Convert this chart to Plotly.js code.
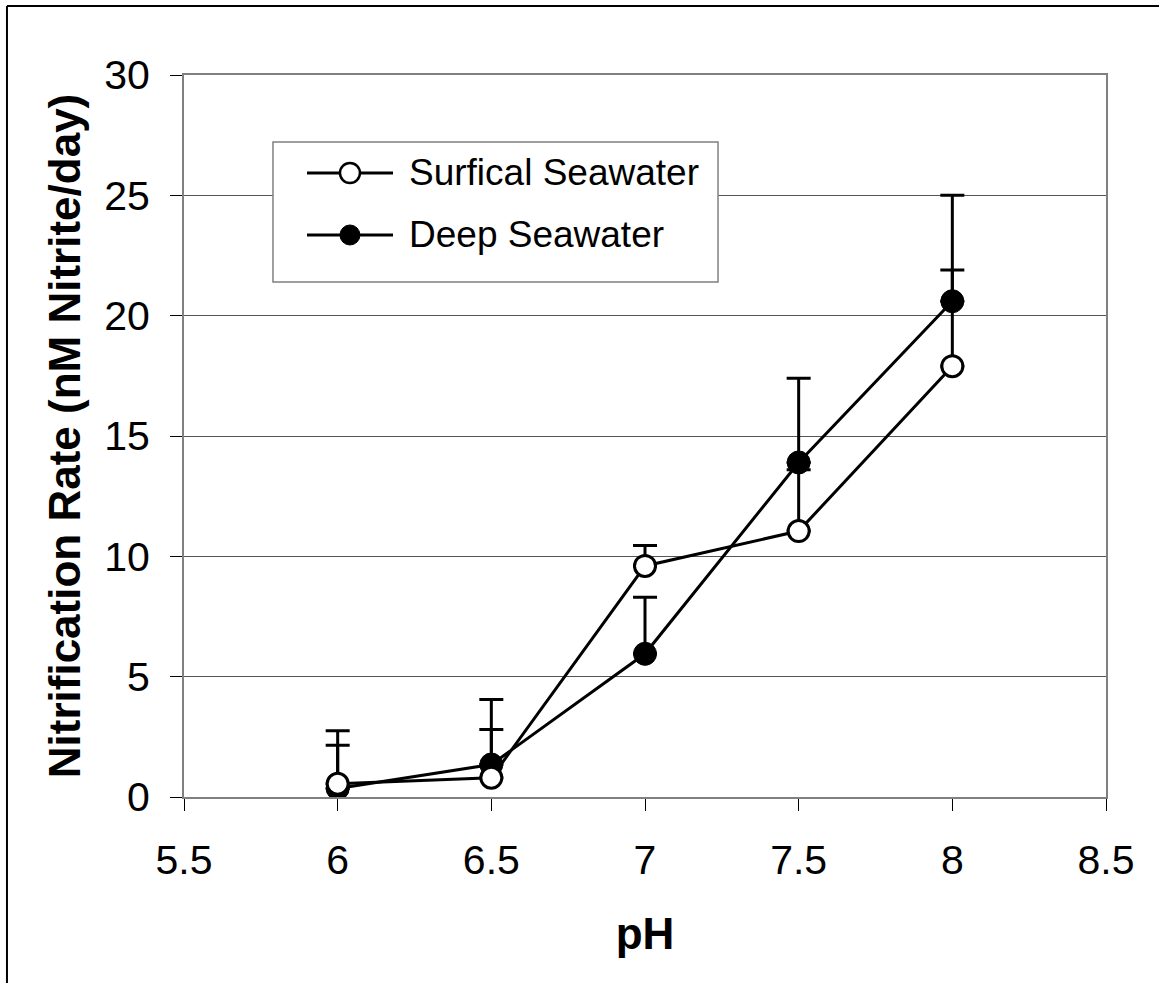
<!DOCTYPE html>
<html>
<head>
<meta charset="utf-8">
<script src="https://cdn.plot.ly/plotly-3.0.1.min.js"></script>
<style>html,body{margin:0;padding:0;background:#fff;} #chart{width:1159px;height:983px;}</style>
</head>
<body>
<div id="chart"></div>
<script>
const pH = [6, 6.5, 7, 7.5, 8];
const surfaceRate = [0.55, 0.8, 9.6, 11.05, 17.9];
const surfaceErr = [1.6, 2.0, 0.85, 2.55, 4.0];
const deepRate = [0.35, 1.35, 5.95, 13.9, 20.6];
const deepErr = [2.4, 2.7, 2.35, 3.5, 4.4];
const seriesNames = ["Surfical Seawater", "Deep Seawater"];
const xTicks = [5.5, 6, 6.5, 7, 7.5, 8, 8.5];
const yTicks = [0, 5, 10, 15, 20, 25, 30];

const FONT = "Liberation Sans, Arial, sans-serif";

const traces = [
  {
    x: pH, y: deepRate, name: seriesNames[1], type: "scatter", mode: "lines+markers",
    line: {color: "#000", width: 3},
    marker: {symbol: "circle", size: 23, color: "#000", line: {color: "#000", width: 1}},
    error_y: {type: "data", symmetric: false, array: deepErr, arrayminus: deepErr.map(() => 0),
              color: "#000", thickness: 3, width: 12},
    showlegend: false
  },
  {
    x: pH, y: surfaceRate, name: seriesNames[0], type: "scatter", mode: "lines+markers",
    line: {color: "#000", width: 3},
    marker: {symbol: "circle", size: 21, color: "#fff", line: {color: "#000", width: 3}},
    error_y: {type: "data", symmetric: false, array: surfaceErr, arrayminus: surfaceErr.map(() => 0),
              color: "#000", thickness: 3, width: 12},
    showlegend: false
  }
];

// Legend box drawn in paper coordinates (plot area: x 184..1106 px, y 75..797 px)
const legRows = [0.8643, 0.7784];
const legLineX = [0.1334, 0.2267];
const legMarkX = 0.18;
const legendShapes = [
  {type: "rect", xref: "paper", yref: "paper", x0: 0.0965, x1: 0.5792, y0: 0.7133, y1: 0.9072,
   fillcolor: "#fff", line: {color: "#808080", width: 1.5}, layer: "above"}
];
const legendMarkers = [
  {fill: "#fff", lw: 2.5},
  {fill: "#000", lw: 1}
];
legRows.forEach((yy, i) => {
  legendShapes.push({type: "line", xref: "paper", yref: "paper", x0: legLineX[0], x1: legLineX[1], y0: yy, y1: yy,
                     line: {color: "#000", width: 3}, layer: "above"});
  legendShapes.push({type: "circle", xref: "paper", yref: "paper", xsizemode: "pixel", ysizemode: "pixel",
                     xanchor: legMarkX, yanchor: yy, x0: -10, x1: 10, y0: -10, y1: 10,
                     fillcolor: legendMarkers[i].fill, line: {color: "#000", width: legendMarkers[i].lw}, layer: "above"});
});
const legendAnn = seriesNames.map((n, i) => ({
  xref: "paper", yref: "paper", x: 0.2419, y: legRows[i], xanchor: "left", yanchor: "middle",
  text: n, showarrow: false, font: {family: FONT, size: 37, color: "#000"}
}));

const layout = {
  width: 1159, height: 983,
  paper_bgcolor: "#fff", plot_bgcolor: "#fff",
  margin: {l: 184, r: 53, t: 75, b: 186, pad: 0},
  font: {family: FONT, color: "#000"},
  showlegend: false,
  xaxis: {
    range: [5.5, 8.5], tickvals: xTicks, ticktext: xTicks.map(String),
    showgrid: false, zeroline: false,
    showline: true, linecolor: "#808080", linewidth: 2, mirror: true,
    ticks: "outside", ticklen: 12, tickcolor: "#000", tickwidth: 1,
    tickfont: {family: FONT, size: 41, color: "#000"},
    ticklabelstandoff: 14,
    title: {text: "<b>pH</b>", font: {family: FONT, size: 44, color: "#000"}, standoff: 36}
  },
  yaxis: {
    range: [0, 30], tickvals: yTicks, ticktext: yTicks.map(String),
    showgrid: true, gridcolor: "#555", gridwidth: 1, zeroline: false,
    showline: true, linecolor: "#808080", linewidth: 2, mirror: true,
    ticks: "outside", ticklen: 12, tickcolor: "#000", tickwidth: 1,
    tickfont: {family: FONT, size: 41, color: "#000"},
    ticklabelstandoff: 12,
    title: {text: "<b>Nitrification Rate (nM Nitrite/day)</b>", font: {family: FONT, size: 44, color: "#000"}, standoff: 10}
  },
  annotations: legendAnn,
  shapes: [
    {type: "line", xref: "paper", yref: "paper", x0: -0.192, x1: 1.2, y0: 1.0956, y1: 1.0956, line: {color: "#000", width: 2}},
    {type: "line", xref: "paper", yref: "paper", x0: -0.192, x1: -0.192, y0: 1.0956, y1: -0.35, line: {color: "#000", width: 2}}
  ].concat(legendShapes)
};

Plotly.newPlot("chart", traces, layout, {staticPlot: true, displayModeBar: false});
</script>
</body>
</html>
